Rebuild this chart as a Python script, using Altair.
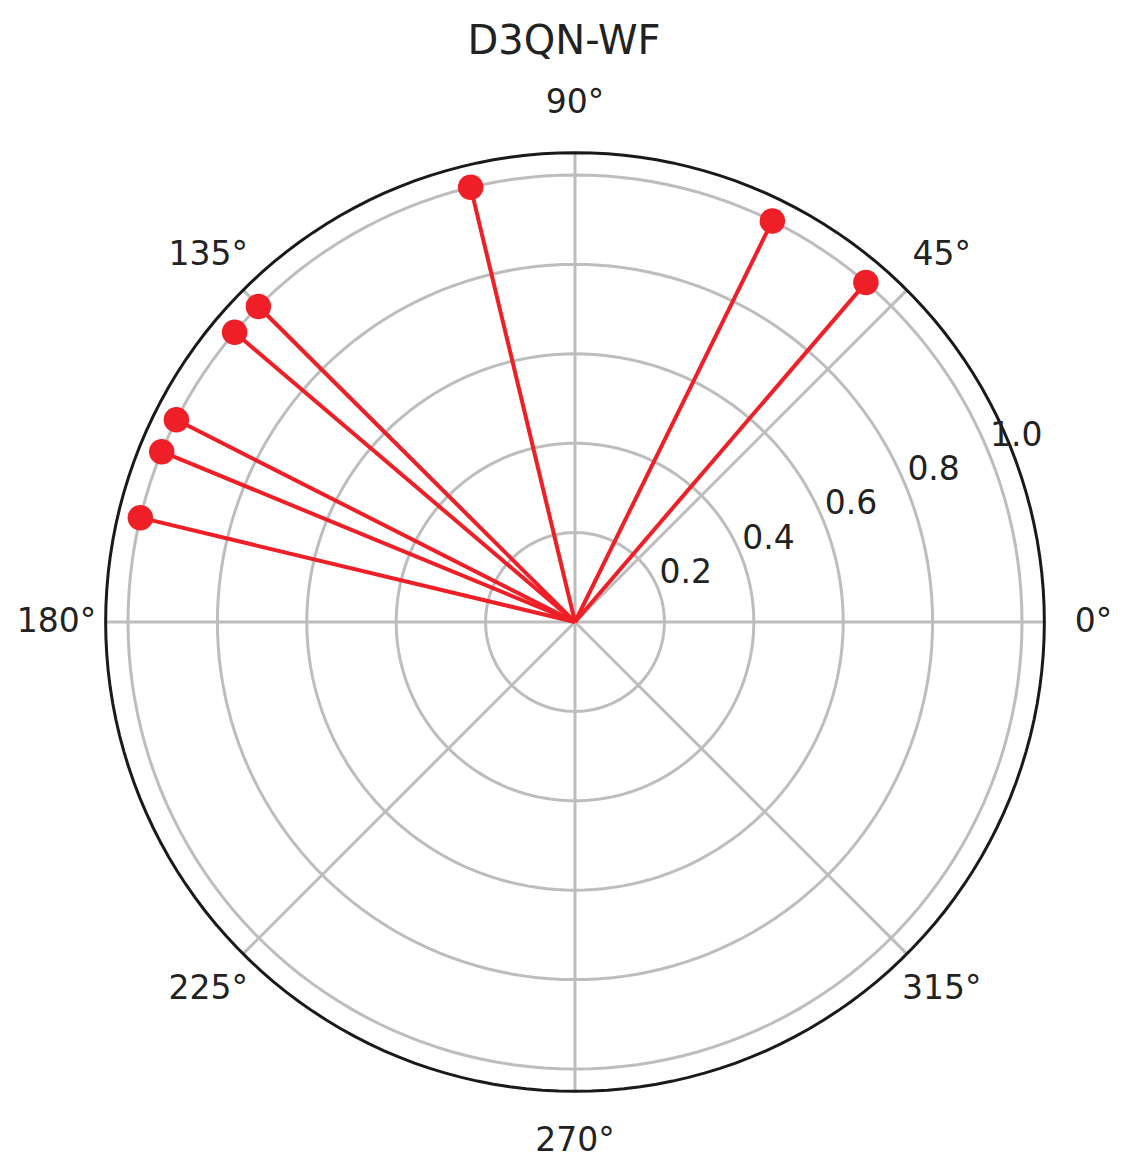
import altair as alt
import pandas as pd

# ---------------- data ----------------
chart_title = "D3QN-WF"
action_angles_deg = [49.4, 63.8, 103.5, 135.1, 139.6, 153.1, 157.6, 166.5]
action_radii = [1.0, 1.0, 1.0, 1.0, 1.0, 1.0, 1.0, 1.0]
r_ticks = [0.2, 0.4, 0.6, 0.8, 1.0]
r_tick_labels = ["0.2", "0.4", "0.6", "0.8", "1.0"]
theta_ticks = [0, 45, 90, 135, 180, 225, 270, 315]
theta_tick_labels = ["0°", "45°", "90°", "135°", "180°", "225°", "270°", "315°"]
r_max = 1.05
r_label_angle = 22.5
theta_label_r = 1.16

# ---------------- layout ----------------
FONT = "DejaVu Sans"
TXT = "#222222"
GRID = "#bdbdbd"
RED = "#ee1f26"
W, H = 1112, 1080
PAD_TOP = 14
CX, CY = 567, 560               # centre of polar area in plot coords
R = 447 * r_max                 # pixel radius of r_max

xscale = alt.Scale(domain=[-r_max, r_max], range=[CX - R, CX + R], nice=False, zero=False)
yscale = alt.Scale(domain=[-r_max, r_max], range=[CY + R, CY - R], nice=False, zero=False)


def X(f):
    return alt.X(f, type="quantitative", scale=xscale, axis=None)


def Y(f):
    return alt.Y(f, type="quantitative", scale=yscale, axis=None)


rings = pd.DataFrame({"r": r_ticks})
outer = pd.DataFrame({"r": [r_max]})
spokes = pd.DataFrame({"theta": theta_ticks, "r": r_max})
theta_lab = pd.DataFrame({"theta": theta_ticks, "label": theta_tick_labels, "r": theta_label_r})
r_lab = pd.DataFrame({"r": r_ticks, "label": r_tick_labels, "theta": r_label_angle})
actions = pd.DataFrame({"theta": action_angles_deg, "r": action_radii})


def polar(ch):
    return ch.transform_calculate(
        px="datum.r * cos(datum.theta * PI / 180)",
        py="datum.r * sin(datum.theta * PI / 180)",
        ox="0",
        oy="0",
    )


def circle_lines(df, color, width):
    ch = (
        alt.Chart(df)
        .transform_calculate(theta="sequence(0, 362, 2)")
        .transform_flatten(["theta"])
    )
    return polar(ch).mark_line(color=color, strokeWidth=width, interpolate="linear").encode(
        x=X("px:Q"), y=Y("py:Q"), detail="r:N", order="theta:Q"
    )


ring_layer = circle_lines(rings, GRID, 3)
outer_layer = circle_lines(outer, "#1a1a1a", 3)

spoke_layer = polar(alt.Chart(spokes)).mark_rule(color=GRID, strokeWidth=3).encode(
    x=X("ox:Q"), y=Y("oy:Q"), x2="px:Q", y2="py:Q"
)

line_layer = polar(alt.Chart(actions)).mark_rule(color=RED, strokeWidth=4).encode(
    x=X("ox:Q"), y=Y("oy:Q"), x2="px:Q", y2="py:Q"
)

point_layer = polar(alt.Chart(actions)).mark_circle(color=RED, opacity=1, size=650).encode(
    x=X("px:Q"), y=Y("py:Q")
)

theta_text = polar(alt.Chart(theta_lab)).mark_text(
    font=FONT, fontSize=33, color=TXT, align="center", baseline="middle"
).encode(x=X("px:Q"), y=Y("py:Q"), text="label:N")

r_text = polar(alt.Chart(r_lab)).mark_text(
    font=FONT, fontSize=33, color=TXT, align="left", baseline="alphabetic", dx=2, dy=-5
).encode(x=X("px:Q"), y=Y("py:Q"), text="label:N")

chart = alt.layer(
    ring_layer, spoke_layer, outer_layer, line_layer, point_layer, theta_text, r_text
).properties(
    width=W,
    height=H,
    padding={"top": PAD_TOP, "left": 0, "right": 0, "bottom": 0},
    title=alt.Title(chart_title, font=FONT, fontSize=40, fontWeight="normal", color=TXT, anchor="middle", offset=0),
).configure_view(stroke=None)

chart.save("out.html", embed_options={"renderer": "svg", "actions": False})
